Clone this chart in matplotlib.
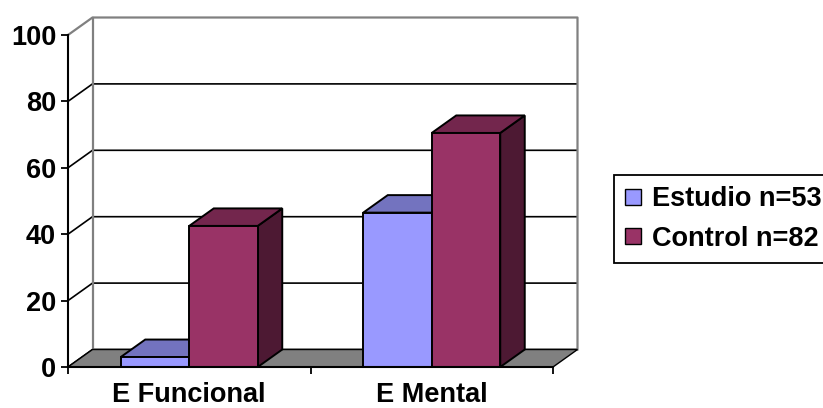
import matplotlib
matplotlib.use("Agg")
import matplotlib.pyplot as plt
from matplotlib.patches import Polygon, Patch

categories = ["E Funcional", "E Mental"]
series_names = ["Estudio n=53", "Control n=82"]
estudio = [3.0, 46.5]
control = [42.5, 70.5]
yticks = [0, 20, 40, 60, 80, 100]

plt.rcParams["font.family"] = ["Liberation Sans", "DejaVu Sans"]
plt.rcParams["font.weight"] = "bold"

FS = 19.5
W, H, DPI = 823, 408, 100
fig = plt.figure(figsize=(W / DPI, H / DPI), dpi=DPI)
ax = fig.add_axes([68 / W, 41 / H, 485 / W, 332 / H])
ax.set_xlim(0, 2)
ax.set_ylim(0, 100)
ax.patch.set_visible(False)

# depth of the 3-D box, expressed in data units (from a pixel offset)
px_per_x = ax.bbox.width / 2.0
px_per_y = ax.bbox.height / 100.0
DX = 24.5 / px_per_x
DY = 17.5 / px_per_y

GRAY = "#808080"
LW = 1.2

# back wall and left wall
ax.add_patch(Polygon([(DX, DY), (2 + DX, DY), (2 + DX, 100 + DY), (DX, 100 + DY)],
                     closed=True, fc="white", ec="none", zorder=0.5, clip_on=False))
ax.add_patch(Polygon([(0, 0), (DX, DY), (DX, 100 + DY), (0, 100)],
                     closed=True, fc="white", ec="none", zorder=0.5, clip_on=False))

# gridlines running along the left wall and across the back wall
for v in yticks[:-1]:
    ax.plot([0, DX, 2 + DX], [v, v + DY, v + DY], color="black", lw=LW,
            zorder=0.8, clip_on=False, solid_capstyle="butt")
# outer edges of the walls
ax.plot([0, DX, 2 + DX, 2 + DX], [100, 100 + DY, 100 + DY, DY], color=GRAY,
        lw=1.6, zorder=0.9, clip_on=False)
ax.plot([DX, DX], [DY, 100 + DY], color=GRAY, lw=1.6, zorder=0.9, clip_on=False)

# floor
ax.add_patch(Polygon([(0, 0), (2, 0), (2 + DX, DY), (DX, DY)], closed=True,
                     fc=GRAY, ec="black", lw=1.0, zorder=1, clip_on=False))


def draw_bar(x0, x1, h, front, top, side):
    kw = dict(closed=True, ec="black", lw=1.4, zorder=2, clip_on=False,
              joinstyle="miter")
    ax.add_patch(Polygon([(x1, 0), (x1 + DX, DY), (x1 + DX, h + DY), (x1, h)], fc=side, **kw))
    ax.add_patch(Polygon([(x0, h), (x1, h), (x1 + DX, h + DY), (x0 + DX, h + DY)], fc=top, **kw))
    ax.add_patch(Polygon([(x0, 0), (x1, 0), (x1, h), (x0, h)], fc=front, **kw))


est_colors = ("#9999FF", "#7373BF", "#4D4D80")
ctl_colors = ("#993366", "#73264D", "#4D1933")

bw = 68.5 / px_per_x
for i in range(len(categories)):
    c = i + 0.5
    draw_bar(c - bw, c, estudio[i], *est_colors)
    draw_bar(c, c + bw, control[i], *ctl_colors)

# axes: front vertical value axis and category axis
for s in ("top", "right"):
    ax.spines[s].set_visible(False)
for s in ("left", "bottom"):
    ax.spines[s].set_color("black")
    ax.spines[s].set_linewidth(1.5)
    ax.spines[s].set_zorder(3)

ax.set_yticks(yticks)
ax.set_yticklabels([str(v) for v in yticks])
ax.tick_params(axis="y", direction="out", length=5, width=1.3, pad=3.5,
               labelsize=FS, colors="black")
ax.set_xticks([0, 1, 2])
ax.set_xticklabels([])
ax.tick_params(axis="x", which="major", direction="out", length=5, width=1.3)
ax.set_xticks([0.5, 1.5], minor=True)
ax.set_xticklabels(categories, minor=True)
ax.tick_params(axis="x", which="minor", length=0, pad=11, labelsize=FS)
for lab in ax.get_xticklabels(minor=True) + ax.get_yticklabels():
    lab.set_fontweight("bold")

handles = [Patch(fc=est_colors[0], ec="black", lw=1.0),
           Patch(fc=ctl_colors[0], ec="black", lw=1.0)]
leg = fig.legend(handles, series_names, loc="upper left",
                 bbox_to_anchor=(614 / W, 1 - 175 / H), frameon=True,
                 fancybox=False, edgecolor="black", framealpha=1,
                 prop={"size": FS, "weight": "bold"},
                 handlelength=0.56, handleheight=0.56, handletextpad=0.42,
                 borderpad=0.42, labelspacing=0.49, borderaxespad=0)
leg.get_frame().set_linewidth(1.3)

fig.savefig("out.png", dpi=DPI)
